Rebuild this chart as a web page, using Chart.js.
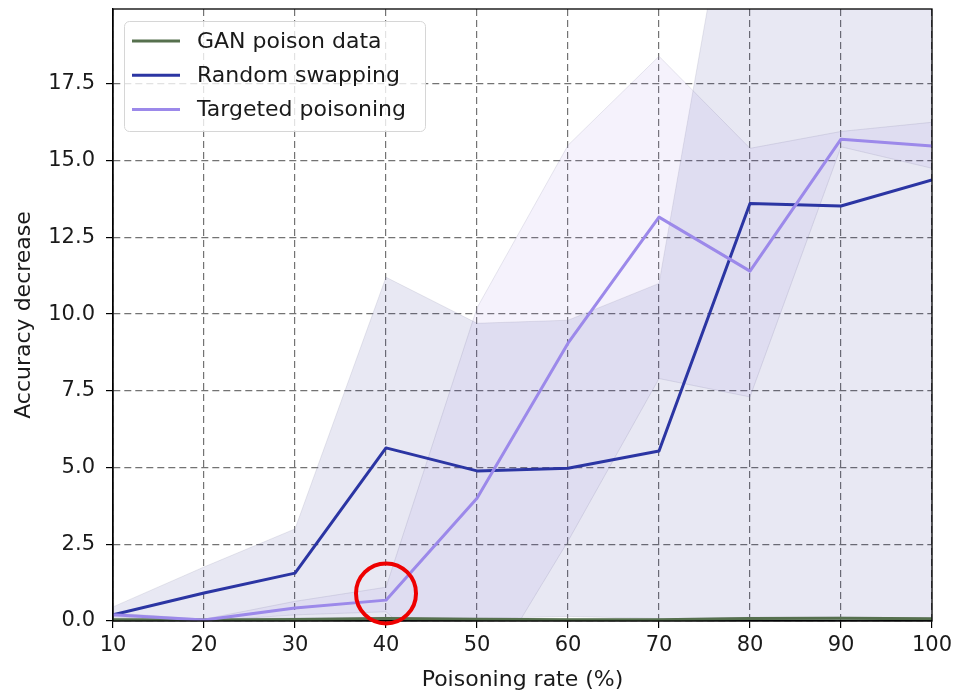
<!DOCTYPE html>
<html>
<head>
<meta charset="utf-8">
<script src="https://cdn.jsdelivr.net/npm/chart.js@4.4.1/dist/chart.umd.min.js"></script>
<style>
  html, body { margin: 0; padding: 0; background: #fff; }
  #wrap { width: 953px; height: 691px; }
</style>
</head>
<body>
<div id="wrap"><canvas id="chart" width="953" height="691"></canvas></div>
<script>
// poisoning rates (%)
const rates = [10, 20, 30, 40, 50, 60, 70, 80, 90, 100];

// mean accuracy decrease per method
const ganMean      = [0.04, 0.03, 0.05, 0.08, 0.06, 0.04, 0.04, 0.08, 0.09, 0.07];
const randomMean   = [0.2, 0.91, 1.56, 5.64, 4.89, 4.98, 5.54, 13.6, 13.52, 14.37];
const targetedMean = [0.2, 0.03, 0.42, 0.68, 4.0, 9.05, 13.16, 11.4, 15.7, 15.48];

// spread (mean ± std)
const ganLow       = [0.01, 0.0, 0.02, 0.04, 0.03, 0.01, 0.01, 0.04, 0.05, 0.04];
const ganHigh      = [0.07, 0.06, 0.08, 0.12, 0.09, 0.07, 0.07, 0.12, 0.13, 0.1];
const randomLow    = [-0.06, 0.06, 0.1, 0.08, 0.08, 0.15, 0.08, -0.6, 0.04, -0.06];
const randomHigh   = [0.46, 1.76, 3.0, 11.2, 9.7, 9.8, 11.0, 27.8, 27.0, 28.8];
const targetedLow  = [0.14, 0.0, 0.2, 0.3, -2.3, 2.6, 7.9, 7.3, 15.45, 14.75];
const targetedHigh = [0.26, 0.06, 0.64, 1.1, 10.2, 15.5, 18.4, 15.4, 15.95, 16.25];

const yTicks = [0, 2.5, 5, 7.5, 10, 12.5, 15, 17.5];
const yMax = 19.94;

// highlighted point (red circle)
const markX = 40, markY = 0.9;

const FONT = "'DejaVu Sans', sans-serif";
const pts = arr => rates.map((x, i) => ({ x, y: arr[i] }));

function band(data, fill){
  return {
    data: pts(data), fill,
    borderColor: "rgba(140,140,170,0.2)", borderWidth: 1,
    backgroundColor: fill === false ? "transparent" : undefined,
    pointRadius: 0, tension: 0, order: 10
  };
}

function line(label, data, color, order){
  return {
    label, data: pts(data), fill: false, legend: true,
    borderColor: color, borderWidth: 3, borderJoinStyle: "round",
    pointRadius: 0, tension: 0, order
  };
}

const rLo = band(randomLow, false);
const rHi = band(randomHigh, 0);   rHi.backgroundColor = "rgba(10,10,130,0.095)";
const tLo = band(targetedLow, false);
const tHi = band(targetedHigh, 2); tHi.backgroundColor = "rgba(147,112,219,0.09)";
const gLo = band(ganLow, false);
const gHi = band(ganHigh, 4);      gHi.backgroundColor = "rgba(85,107,47,0.25)";

// frame around the plot + legend inside + highlight circle
const framePlugin = {
  id: "frame",
  afterDraw(chart){
    const { ctx, chartArea: a, scales } = chart;
    ctx.save();
    ctx.strokeStyle = "#000"; ctx.lineWidth = 1.3;
    ctx.strokeRect(a.left, a.top, a.right - a.left, a.bottom - a.top);

    // legend box
    const items = chart.data.datasets.filter(d => d.legend);
    const bx = 124.5, by = 21.5, bw = 301, bh = 110, r = 5;
    ctx.beginPath();
    ctx.roundRect(bx, by, bw, bh, r);
    ctx.fillStyle = "rgba(255,255,255,0.8)";
    ctx.fill();
    ctx.strokeStyle = "#d6d6d6"; ctx.lineWidth = 1;
    ctx.stroke();
    ctx.font = "22px " + FONT;
    ctx.textBaseline = "middle";
    ctx.fillStyle = "#1a1a1a";
    items.forEach((d, i) => {
      const y = 41 + i * 34.3;
      ctx.beginPath();
      ctx.moveTo(132, y); ctx.lineTo(180, y);
      ctx.strokeStyle = d.borderColor; ctx.lineWidth = 3;
      ctx.stroke();
      ctx.fillText(d.label, 197, y + 1);
    });

    // red circle
    const cx = scales.x.getPixelForValue(markX);
    const cy = scales.y.getPixelForValue(markY);
    ctx.beginPath();
    ctx.arc(cx, cy, 30, 0, Math.PI * 2);
    ctx.strokeStyle = "#ee0000"; ctx.lineWidth = 4;
    ctx.stroke();
    ctx.restore();
  }
};

const gridOpts = {
  color: "rgba(90,90,90,0.85)", lineWidth: 1.2,
  drawTicks: true, tickLength: 7, tickColor: "#000", tickWidth: 1.2, tickBorderDash: []
};

new Chart(document.getElementById("chart"), {
  type: "line",
  data: {
    datasets: [
      rLo, rHi, tLo, tHi, gLo, gHi,
      line("GAN poison data", ganMean, "#56704e", 2),
      line("Random swapping", randomMean, "#2b35a3", 1),
      line("Targeted poisoning", targetedMean, "#9c89ea", 0)
    ]
  },
  options: {
    responsive: false,
    animation: false,
    layout: { padding: { left: 0, right: 21, top: 9, bottom: 0 } },
    plugins: { legend: { display: false }, tooltip: { enabled: false } },
    scales: {
      x: {
        type: "linear", min: 10, max: 100,
        ticks: { stepSize: 10, padding: 5, color: "#1a1a1a", font: { family: FONT, size: 21 } },
        grid: gridOpts,
        border: { display: true, color: "#000", width: 1.3, dash: [7, 4] },
        title: { display: true, text: "Poisoning rate (%)", color: "#1a1a1a",
                 font: { family: FONT, size: 22, lineHeight: 1 }, padding: { top: 0, bottom: 0 } },
        afterFit(s){ s.height = 70; s.paddingLeft = 0; s.paddingRight = 0; }
      },
      y: {
        type: "linear", min: 0, max: yMax,
        afterBuildTicks(s){ s.ticks = yTicks.map(v => ({ value: v })); },
        ticks: { padding: 11, color: "#1a1a1a", font: { family: FONT, size: 21 },
                 callback: v => Number(v).toFixed(1) },
        grid: gridOpts,
        border: { display: true, color: "#000", width: 1.3, dash: [7, 4] },
        title: { display: true, text: "Accuracy decrease", color: "#1a1a1a",
                 font: { family: FONT, size: 22, lineHeight: 1 }, padding: { top: 13, bottom: 0 } },
        afterFit(s){ s.width = 113; s.paddingTop = 0; s.paddingBottom = 0; }
      }
    }
  },
  plugins: [framePlugin]
});
</script>
</body>
</html>
